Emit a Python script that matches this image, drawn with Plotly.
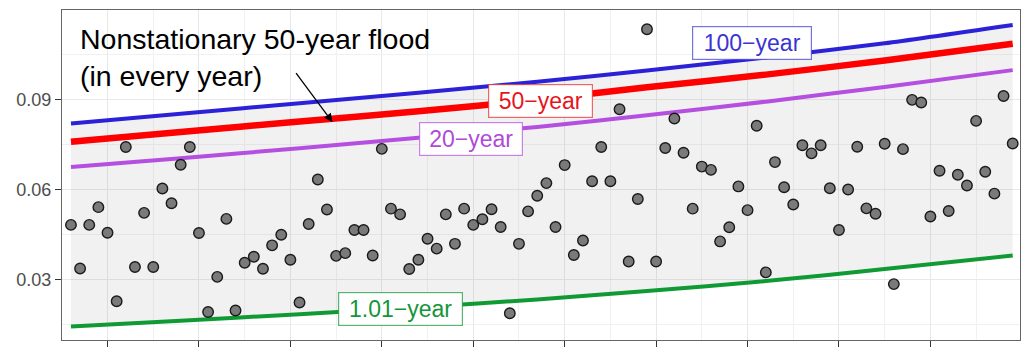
import plotly.graph_objects as go

# ---- data ----
years = list(range(1916, 2020))
peaks = [0.0482, 0.0337, 0.0482, 0.0541, 0.0456, 0.0228, 0.0741, 0.0342, 0.0522, 0.0342,
         0.0603, 0.0554, 0.0682, 0.0741, 0.0455, 0.0192, 0.0309, 0.0502, 0.0197, 0.0356,
         0.0376, 0.0336, 0.0414, 0.0449, 0.0366, 0.0224, 0.0485, 0.0633, 0.0533, 0.0379,
         0.0388, 0.0465, 0.0465, 0.0380, 0.0735, 0.0536, 0.0517, 0.0335, 0.0366, 0.0436,
         0.0403, 0.0517, 0.0419, 0.0536, 0.0482, 0.0501, 0.0534, 0.0475, 0.0188, 0.0419,
         0.0527, 0.0579, 0.0621, 0.0475, 0.0681, 0.0382, 0.0430, 0.0627, 0.0741, 0.0627,
         0.0867, 0.0360, 0.0568, 0.1133, 0.0360, 0.0738, 0.0836, 0.0722, 0.0536, 0.0676,
         0.0665, 0.0427, 0.0474, 0.0610, 0.0531, 0.0812, 0.0324, 0.0691, 0.0607, 0.0550,
         0.0747, 0.0720, 0.0747, 0.0604, 0.0465, 0.0600, 0.0742, 0.0537, 0.0519, 0.0752,
         0.0285, 0.0734, 0.0898, 0.0889, 0.0510, 0.0662, 0.0528, 0.0649, 0.0613, 0.0828,
         0.0659, 0.0586, 0.0911, 0.0753]

curve_years = [1916, 1928, 1941, 1954, 1967, 1979, 1992, 2005, 2019]
q100 = [0.0819, 0.0852, 0.0887, 0.0922, 0.0958, 0.0996, 0.1039, 0.1086, 0.1147]
q50 = [0.0759, 0.0791, 0.0826, 0.0860, 0.0898, 0.0940, 0.0982, 0.1029, 0.1085]
q20 = [0.0675, 0.0704, 0.0737, 0.0772, 0.0808, 0.0847, 0.0892, 0.0941, 0.0997]
q101 = [0.0144, 0.0163, 0.0185, 0.0208, 0.0234, 0.0262, 0.0295, 0.0335, 0.0380]

y_ticks = [0.03, 0.06, 0.09]
y_labels = ["0.03", "0.06", "0.09"]

BLUE = "#2b22d8"
RED = "#ff0000"
PURPLE = "#b44fe0"
GREEN = "#109a34"
FONT = "Liberation Sans, Arial, sans-serif"

fig = go.Figure()

# shaded band between 1.01-year and 100-year curves
fig.add_trace(go.Scatter(x=curve_years, y=q100, mode="lines", line=dict(width=0, shape="spline", smoothing=0.6),
                         showlegend=False, hoverinfo="skip"))
fig.add_trace(go.Scatter(x=curve_years, y=q101, mode="lines", line=dict(width=0, shape="spline", smoothing=0.6),
                         fill="tonexty", fillcolor="rgba(150,140,150,0.12)",
                         showlegend=False, hoverinfo="skip"))

for vals, col, w in [(q100, BLUE, 4), (q50, RED, 6.5), (q20, PURPLE, 4), (q101, GREEN, 4)]:
    fig.add_trace(go.Scatter(x=curve_years, y=vals, mode="lines",
                             line=dict(color=col, width=w, shape="spline", smoothing=0.6),
                             showlegend=False))

fig.add_trace(go.Scatter(x=years, y=peaks, mode="markers",
                         marker=dict(size=10.5, color="#7a7a7a",
                                     line=dict(color="#1a1a1a", width=1.4)),
                         showlegend=False))

labels = [("100\u2212year", 1990.5, 0.1086, "#3a34d4", "rgba(60,55,215,0.7)", 116),
          ("50\u2212year", 1967.4, 0.0895, "#e8141c", "rgba(240,40,40,0.7)", 101),
          ("20\u2212year", 1959.8, 0.0768, "#b04ad8", "rgba(180,80,225,0.7)", 100),
          ("1.01\u2212year", 1952.0, 0.0203, "#14953a", "rgba(20,150,55,0.7)", 121)]
for txt, xx, yy, col, bcol, wd in labels:
    fig.add_annotation(x=xx, y=yy, xref="x", yref="y", text=txt, showarrow=False,
                       font=dict(family=FONT, size=23, color=col),
                       bgcolor="white", bordercolor=bcol, borderwidth=1.2, borderpad=1,
                       width=wd, height=30, xanchor="center", yanchor="middle")

fig.add_annotation(x=1916.76, y=0.1160, xref="x", yref="y",
                   text="Nonstationary 50-year flood<br>(in every year)",
                   showarrow=False, align="left", xanchor="left", yanchor="top",
                   font=dict(family=FONT, size=28.5, color="black"))

fig.add_annotation(x=1944.6, y=0.0824, xref="x", yref="y", ax=1940.5, ay=0.0992,
                   axref="x", ayref="y", text="", showarrow=True,
                   arrowhead=2, arrowsize=1.3, arrowwidth=1.3, arrowcolor="black")

fig.update_layout(
    width=1022, height=347,
    margin=dict(l=62, r=1, t=10, b=4),
    paper_bgcolor="white", plot_bgcolor="white",
    font=dict(family=FONT),
)
fig.update_xaxes(range=[1915.02, 2019.8], tick0=1920, dtick=10,
                 showticklabels=False, ticks="outside", ticklen=6, tickcolor="#333333",
                 showgrid=True, gridcolor="#e8e8e8", gridwidth=1.3,
                 minor=dict(dtick=5, tick0=1920, showgrid=True, gridcolor="#f1f1f1", gridwidth=1),
                 showline=True, linecolor="#666666", linewidth=1.3, mirror=True,
                 zeroline=False)
fig.update_yaxes(range=[0.0099, 0.1197], tickvals=y_ticks, ticktext=y_labels,
                 ticks="outside", ticklen=6, tickcolor="#333333",
                 tickfont=dict(family=FONT, size=18, color="#4d4d4d"),
                 showgrid=True, gridcolor="#e8e8e8", gridwidth=1.3,
                 minor=dict(tickvals=[0.015, 0.045, 0.075, 0.105], showgrid=True,
                            gridcolor="#f1f1f1", gridwidth=1),
                 showline=True, linecolor="#666666", linewidth=1.3, mirror=True,
                 zeroline=False)

fig.write_html("out.html")
